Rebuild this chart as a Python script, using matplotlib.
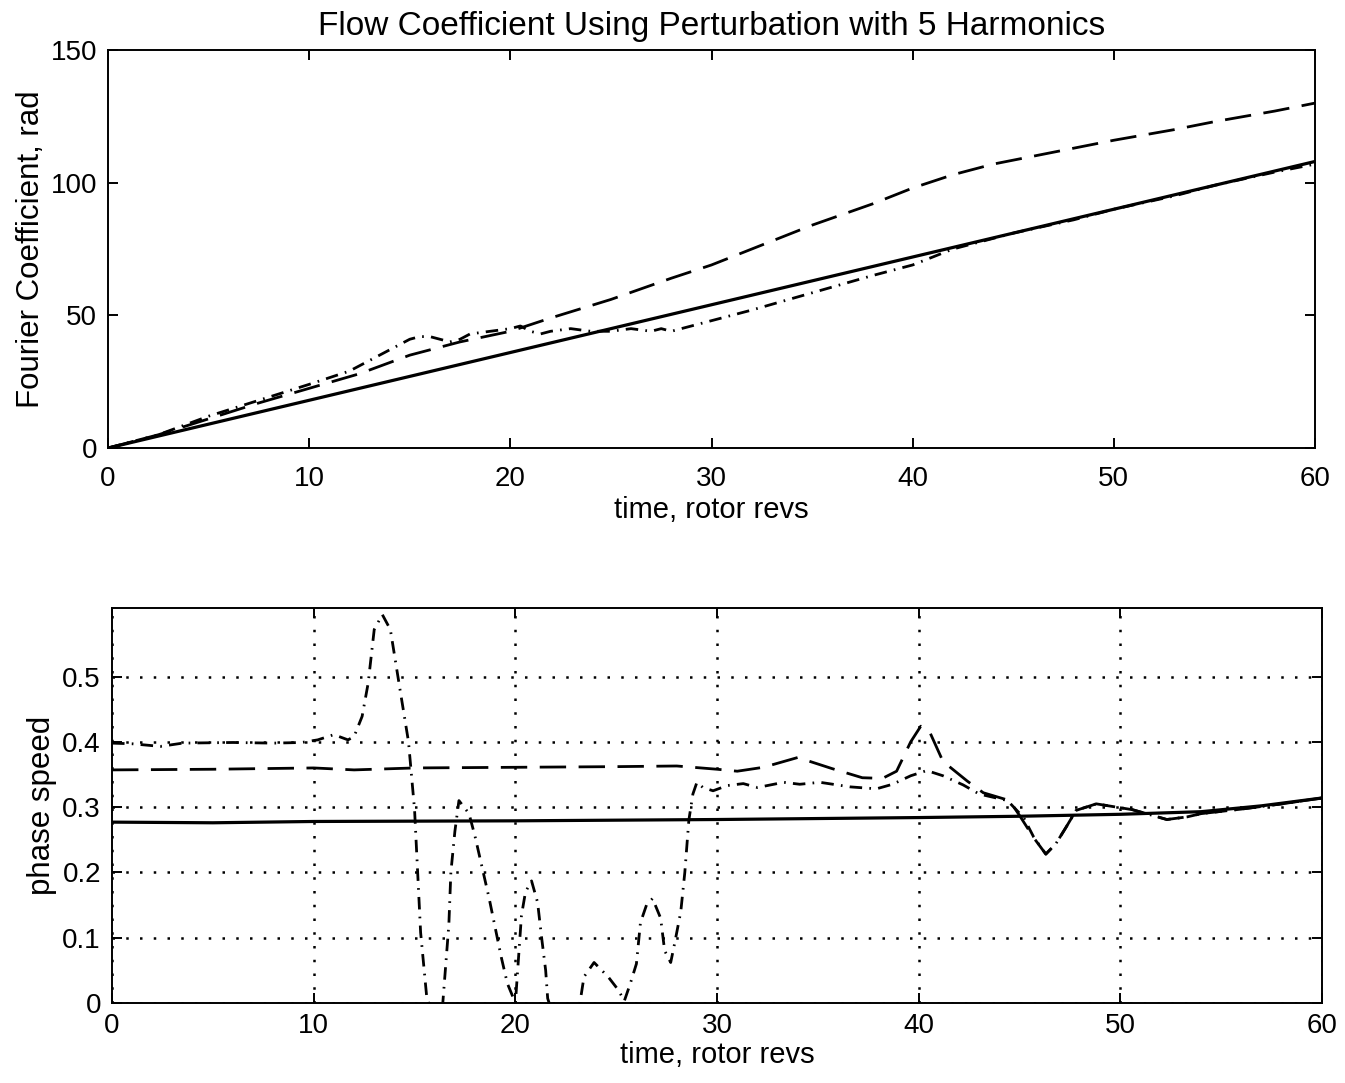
import numpy as np
import matplotlib.pyplot as plt

plt.rcParams['font.family'] = ['Liberation Sans', 'DejaVu Sans']

# ---------------- данные: верхний график (коэффициент Фурье) ----------------
t_solid_top = [0, 10, 20, 30, 40, 50, 60]
fc_solid = [0, 18, 36, 54, 72, 90, 108]

t_dash_top = [0, 2.5, 5, 7.5, 10, 12.5, 15, 17.5, 20, 22, 25, 28, 30, 33, 35, 38,
              40, 42, 44, 46, 48, 50, 53, 55, 58, 60]
fc_dash = [0, 5, 11, 17, 22.5, 28, 35, 40, 44, 49, 56, 64, 69, 78, 84, 92,
           98, 103, 107, 110, 113, 116, 120, 123, 127, 130]

t_dd_top = [0, 2.5, 5, 7.5, 10, 12, 13, 14, 14.5, 15, 15.5, 16, 16.5, 17, 17.5, 18,
            19, 20, 20.5, 21, 21.5, 22, 23, 24, 25, 26, 27, 27.5, 28, 28.5, 29,
            30, 32, 35, 38, 40, 42, 43, 45, 48, 50, 53, 55, 58, 60]
fc_dd = [0, 5, 12, 18, 24, 29, 33, 37, 39, 41, 42, 42, 41, 40, 41, 43,
         44, 45, 46, 44, 43, 44, 45, 44, 44, 45, 44, 45, 44, 45, 46,
         48, 52, 58.5, 65, 69, 75, 77, 81, 86, 90, 95, 99, 104, 107]

# ---------------- данные: нижний график (фазовая скорость) ----------------
t_solid_bot = [0, 5, 10, 20, 30, 40, 45, 50, 54, 57, 60]
ps_solid = [0.277, 0.276, 0.278, 0.279, 0.281, 0.284, 0.286, 0.289, 0.293, 0.302, 0.314]

t_dash_bot = [0, 5, 10, 12, 15, 20, 25, 28, 30, 31, 32.3, 34, 35.7, 37.2, 38.2, 38.9,
              39.6, 40.1, 40.5, 41.2, 42.4, 43.2, 44.5, 45, 45.7, 46.3, 46.8, 47.3,
              47.8, 48.8, 50.6, 52.3, 53.3, 54, 56, 58, 60]
ps_dash = [0.357, 0.358, 0.36, 0.357, 0.36, 0.361, 0.362, 0.363, 0.358, 0.355, 0.361,
           0.376, 0.359, 0.345, 0.344, 0.355, 0.40, 0.424, 0.418, 0.37, 0.34, 0.322,
           0.31, 0.287, 0.253, 0.228, 0.244, 0.269, 0.295, 0.305, 0.296, 0.281,
           0.285, 0.29, 0.297, 0.305, 0.314]

t_dd_bot = [0, 1, 2.4, 3.5, 6, 8, 9.4, 10.2, 11, 11.7, 12, 12.4, 12.7, 13, 13.4, 13.8,
            14.3, 14.7, 15, 15.3, 15.6, 16.0, 16.4, 16.7, 16.8, 17, 17.2, 17.7, 18,
            18.7, 19.3, 19.6, 20.0, 20.3, 20.5, 20.8, 21.1, 21.3, 21.5, 21.6, 22.4,
            23.2, 23.4, 23.9, 24.6, 25.1, 25.4, 25.7, 26.0, 26.2, 26.5, 26.8, 27.2,
            27.4, 27.7, 27.9, 28.2, 28.4, 28.6, 28.8, 29.0, 29.3, 29.8, 30.5, 31.3,
            32, 33.3, 34.1, 35.1, 36.6, 37.9, 38.7, 39.6, 40.4, 41.2, 42.2, 43,
            44.4, 45.2, 45.7, 46.3, 46.8, 47.3, 47.8, 48.8, 50.6, 52.3, 53.3, 54,
            56, 58, 60]
ps_dd = [0.398, 0.397, 0.393, 0.398, 0.399, 0.398, 0.399, 0.403, 0.411, 0.403, 0.408,
         0.439, 0.49, 0.572, 0.595, 0.572, 0.476, 0.40, 0.296, 0.108, 0.01, -0.03,
         0.0, 0.12, 0.2, 0.263, 0.31, 0.29, 0.255, 0.16, 0.07, 0.03, 0.0, 0.134,
         0.17, 0.187, 0.154, 0.1, 0.05, 0.007, -0.07, 0.0, 0.04, 0.062, 0.04, 0.02,
         0.003, 0.03, 0.06, 0.123, 0.15, 0.16, 0.13, 0.08, 0.062, 0.092, 0.14, 0.2,
         0.28, 0.32, 0.338, 0.33, 0.325, 0.333, 0.336, 0.33, 0.338, 0.335, 0.338,
         0.331, 0.328, 0.335, 0.348, 0.356, 0.348, 0.334, 0.32, 0.31, 0.284, 0.254,
         0.228, 0.244, 0.269, 0.295, 0.305, 0.296, 0.281, 0.285, 0.29, 0.297,
         0.305, 0.314]

xticks = [0, 10, 20, 30, 40, 50, 60]
yticks_top = [0, 50, 100, 150]
yticks_bot = [0, 0.1, 0.2, 0.3, 0.4, 0.5]

# стили линий в стиле MATLAB
DASH = (0, (9.5, 4.5))
DASHDOT = (0, (4.5, 2.6, 0.6, 2.6))
LW = 2.0


def style_axes(ax, xpad):
    for sp in ax.spines.values():
        sp.set_linewidth(1.4)
    ax.tick_params(direction='in', top=True, right=True, length=7, width=1.4,
                   labelsize=20)
    ax.tick_params(axis='x', pad=xpad)
    ax.tick_params(axis='y', pad=8)


fig = plt.figure(figsize=(13.45, 10.83), dpi=100)

# верхний график
ax1 = fig.add_axes([0.0803, 0.5863, 0.8974, 0.3675])
ax1.plot(t_solid_top, fc_solid, 'k-', linewidth=2.3)
ax1.plot(t_dash_top, fc_dash, color='k', linestyle=DASH, linewidth=LW)
ax1.plot(t_dd_top, fc_dd, color='k', linestyle=DASHDOT, linewidth=LW)
ax1.set_xlim(0, 60)
ax1.set_ylim(0, 150)
ax1.set_xticks(xticks)
ax1.set_yticks(yticks_top)
style_axes(ax1, 13)
ax1.set_xlabel('time, rotor revs', fontsize=21, labelpad=3)
ax1.set_ylabel('Fourier Coefficient, rad', fontsize=22.5, labelpad=3)
ax1.set_title('Flow Coefficient Using Perturbation with 5 Harmonics', fontsize=24, pad=11)

# нижний график
ax2 = fig.add_axes([0.0833, 0.0739, 0.8997, 0.3647])
ax2.plot(t_solid_bot, ps_solid, 'k-', linewidth=2.3)
ax2.plot(t_dash_bot, ps_dash, color='k', linestyle=DASH, linewidth=LW)
ax2.plot(t_dd_bot, ps_dd, color='k', linestyle=DASHDOT, linewidth=LW)
ax2.set_xlim(0, 60)
ax2.set_ylim(0, 0.605)
ax2.set_xticks(xticks)
ax2.set_yticks(yticks_bot)
ax2.set_yticklabels(['0', '0.1', '0.2', '0.3', '0.4', '0.5'])
ax2.grid(True, color='k', linestyle=(0, (1, 4.5)), linewidth=1.8)
style_axes(ax2, 7)
ax2.set_xlabel('time, rotor revs', fontsize=21, labelpad=2)
ax2.set_ylabel('phase speed', fontsize=22.5, labelpad=4)

plt.savefig('out.png', dpi=100)
plt.close()
